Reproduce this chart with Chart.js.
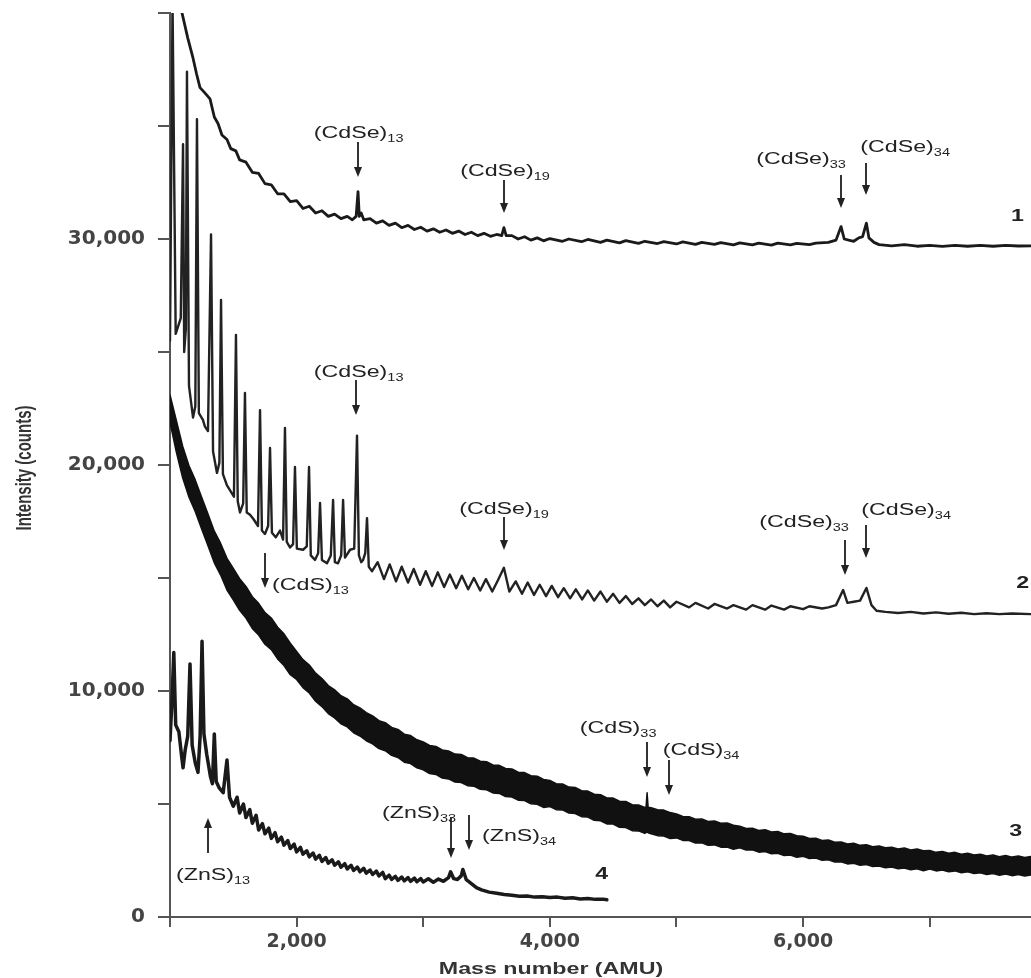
<!DOCTYPE html>
<html lang="en">
<head>
<meta charset="UTF-8">
<title>Mass spectra of CdSe, CdS and ZnS clusters</title>
<script src="https://cdn.jsdelivr.net/npm/chart.js"></script>
<style>
  html, body { margin: 0; padding: 0; background: #fff; }
  #wrap { width: 1031px; height: 978px; }
</style>
</head>
<body>
<div id="wrap"><canvas id="spectra" width="1031" height="978"></canvas></div>
<script>
// spectra: [mass number, counts]
const spectrum1 = [
  [1060,42500],[1095,40000],[1140,38900],[1182,38000],[1210,37300],[1237,36700],[1270,36500],[1316,36200],
  [1350,35400],[1380,35100],[1410,34600],[1450,34400],[1480,34000],[1520,33900],[1550,33500],[1600,33400],
  [1650,32950],[1700,32900],[1750,32450],[1800,32400],[1850,32000],[1900,32000],[1950,31650],[2000,31700],
  [2050,31350],[2100,31450],[2150,31150],[2200,31250],[2250,31000],[2300,31100],[2350,30900],[2400,31000],
  [2440,30850],[2470,31000],[2485,32100],[2495,31000],[2510,31150],[2530,30850],[2580,30900],[2630,30700],
  [2680,30800],[2730,30600],[2780,30700],[2830,30500],[2880,30600],[2930,30420],[2980,30520],[3030,30350],
  [3080,30450],[3130,30300],[3180,30400],[3230,30250],[3280,30350],[3330,30200],[3380,30300],[3430,30150],
  [3480,30250],[3530,30120],[3580,30200],[3620,30150],[3637,30500],[3655,30150],[3700,30150],[3750,30000],
  [3800,30100],[3850,29950],[3900,30050],[3950,29920],[4000,30020],[4100,29900],[4150,30000],[4250,29880],
  [4300,29980],[4400,29850],[4450,29950],[4550,29830],[4600,29930],[4700,29810],[4750,29900],[4850,29800],
  [4900,29880],[5000,29780],[5050,29870],[5150,29760],[5200,29850],[5300,29760],[5350,29840],[5450,29740],
  [5500,29830],[5600,29740],[5650,29820],[5750,29730],[5800,29820],[5900,29740],[5950,29810],[6050,29750],
  [6100,29820],[6200,29850],[6260,29950],[6300,30550],[6325,30000],[6360,29950],[6400,29900],[6440,30050],
  [6470,30100],[6500,30700],[6520,30050],[6560,29850],[6600,29750],[6700,29700],[6800,29750],[6900,29680],
  [7000,29720],[7100,29670],[7200,29720],[7300,29680],[7400,29720],[7500,29680],[7600,29720],[7700,29690],
  [7800,29700]
];

const spectrum2 = [
  [1000,25500],[1020,40500],[1045,25800],[1085,26500],[1103,34200],[1112,25000],[1125,26000],[1134,37400],
  [1150,23500],[1182,22100],[1200,22600],[1213,35300],[1228,22300],[1260,22000],[1276,21700],[1300,21500],
  [1324,30200],[1340,20600],[1371,19650],[1390,20100],[1403,27300],[1418,19600],[1450,19100],[1505,18600],
  [1521,25750],[1535,18400],[1553,17900],[1578,18300],[1592,23190],[1606,17900],[1632,17800],[1660,17600],
  [1695,17300],[1711,22430],[1726,17100],[1750,16950],[1775,17300],[1790,20750],[1805,17000],[1835,16800],
  [1869,17100],[1893,16700],[1908,21640],[1922,16600],[1948,16350],[1972,16500],[1987,19910],[2002,16300],
  [2051,16250],[2080,16400],[2098,19910],[2112,16000],[2145,15800],[2170,16100],[2185,18320],[2200,15800],
  [2240,15650],[2270,16000],[2288,18450],[2302,15700],[2327,15650],[2352,16000],[2367,18450],[2382,15900],
  [2422,16250],[2455,16300],[2477,21300],[2492,16000],[2510,15700],[2525,15800],[2542,16100],[2556,17650],
  [2570,15500],[2596,15300],[2640,15700],[2690,14950],[2735,15600],[2785,14850],[2830,15500],[2880,14800],
  [2925,15400],[2975,14700],[3020,15300],[3070,14650],[3115,15250],[3165,14600],[3210,15150],[3260,14550],
  [3305,15100],[3355,14500],[3400,15000],[3450,14450],[3495,14950],[3545,14400],[3590,14900],[3637,15450],
  [3680,14400],[3730,14850],[3780,14300],[3825,14800],[3875,14250],[3920,14700],[3970,14200],[4015,14650],
  [4065,14150],[4110,14550],[4160,14100],[4205,14500],[4255,14050],[4300,14450],[4350,14000],[4400,14400],
  [4450,13950],[4500,14300],[4550,13900],[4600,14200],[4650,13850],[4700,14100],[4750,13800],[4800,14050],
  [4850,13750],[4900,14000],[4950,13700],[5000,13950],[5100,13700],[5150,13900],[5250,13650],[5300,13850],
  [5400,13650],[5450,13800],[5550,13600],[5600,13800],[5700,13600],[5750,13780],[5850,13600],[5900,13750],
  [6000,13620],[6050,13750],[6150,13650],[6200,13700],[6260,13800],[6316,14470],[6350,13900],[6400,13950],
  [6450,14000],[6500,14560],[6540,13800],[6580,13550],[6650,13500],[6750,13450],[6850,13500],[6950,13430],
  [7050,13480],[7150,13420],[7250,13460],[7350,13400],[7450,13440],[7550,13400],[7650,13430],[7800,13400]
];

// spectrum 3 is a dense noisy band: [mass number, lower edge, upper edge]
const spectrum3 = [
  [1000,21900,23100],[1050,20570,21970],[1100,19430,20830],[1150,18570,19970],[1200,17930,19330],
  [1250,17170,18570],[1300,16430,17830],[1350,15670,17070],[1400,15130,16530],[1450,14470,15870],
  [1500,14030,15430],[1550,13570,14970],[1600,13230,14630],[1650,12770,14170],[1700,12480,13880],
  [1750,12070,13470],[1800,11830,13230],[1850,11420,12820],[1900,11130,12530],[1950,10720,12120],
  [2000,10510,11750],[2050,10150,11390],[2100,9910,11150],[2150,9550,10790],[2200,9310,10550],
  [2250,9000,10240],[2300,8810,10050],[2350,8550,9790],[2400,8410,9650],[2450,8150,9390],
  [2500,8010,9250],[2550,7800,9040],[2600,7660,8900],[2650,7450,8690],[2700,7360,8600],
  [2750,7150,8390],[2800,7060,8300],[2850,6850,8090],[2900,6790,8030],[2950,6600,7840],
  [3000,6510,7750],[3050,6350,7590],[3100,6310,7550],[3150,6150,7390],[3200,6110,7350],
  [3250,5970,7210],[3300,5950,7190],[3350,5810,7050],[3400,5790,7030],[3450,5650,6890],
  [3500,5630,6870],[3550,5490,6730],[3600,5470,6710],[3650,5330,6570],[3700,5310,6550],
  [3750,5170,6410],[3800,5150,6390],[3850,5010,6250],[3900,4990,6230],[3950,4850,6090],
  [4000,4890,6040],[4050,4750,5900],[4100,4740,5890],[4150,4600,5750],[4200,4580,5730],
  [4250,4440,5590],[4300,4420,5570],[4350,4280,5430],[4400,4260,5410],[4450,4120,5270],
  [4500,4110,5260],[4550,3970,5120],[4600,3960,5110],[4650,3820,4970],[4700,3810,4960],
  [4750,3700,4850],[4760,3740,4870],[4768,3760,5500],[4776,3730,4860],[4800,3680,4830],
  [4850,3600,4750],[4900,3580,4730],[4950,3470,4620],[5000,3500,4560],[5050,3390,4450],
  [5100,3380,4440],[5150,3270,4330],[5200,3280,4340],[5250,3170,4230],[5300,3190,4250],
  [5350,3090,4150],[5400,3100,4160],[5450,3000,4060],[5500,3060,4020],[5550,2960,3920],
  [5600,2970,3930],[5650,2870,3830],[5700,2900,3860],[5750,2800,3760],[5800,2820,3780],
  [5850,2720,3680],[5900,2740,3700],[5950,2640,3600],[6000,2690,3570],[6050,2590,3470],
  [6100,2610,3490],[6150,2510,3390],[6200,2530,3410],[6250,2430,3310],[6300,2440,3320],
  [6350,2350,3230],[6400,2380,3260],[6450,2290,3170],[6500,2320,3200],[6550,2230,3110],
  [6600,2260,3140],[6650,2180,3060],[6700,2210,3090],[6750,2130,3010],[6800,2170,3050],
  [6850,2090,2970],[6900,2130,3010],[6950,2050,2930],[7000,2120,2940],[7050,2040,2860],
  [7100,2080,2900],[7150,2000,2820],[7200,2040,2860],[7250,1960,2780],[7300,2000,2820],
  [7350,1920,2740],[7400,1960,2780],[7450,1880,2700],[7500,1920,2740],[7550,1850,2670],
  [7600,1900,2720],[7650,1830,2650],[7700,1880,2700],[7750,1810,2630],[7800,1860,2680]
];

const spectrum4 = [
  [1000,7800],[1015,9500],[1030,11700],[1045,8500],[1070,8200],[1090,7200],[1103,6600],[1120,7400],
  [1140,8000],[1158,11200],[1175,7600],[1200,6800],[1221,6400],[1238,8000],[1253,12200],[1268,8100],
  [1290,7200],[1320,6200],[1335,5900],[1350,8100],[1365,6000],[1390,5700],[1420,5500],[1450,6950],
  [1470,5300],[1500,4900],[1530,5300],[1550,4600],[1580,5000],[1600,4400],[1630,4750],[1650,4150],
  [1680,4500],[1700,3850],[1730,4130],[1750,3680],[1780,3930],[1800,3480],[1830,3730],[1850,3330],
  [1880,3530],[1900,3180],[1930,3380],[1950,3030],[1980,3230],[2000,2880],[2030,3080],[2050,2780],
  [2080,2930],[2100,2660],[2130,2830],[2150,2560],[2180,2730],[2200,2460],[2230,2630],[2250,2380],
  [2280,2530],[2300,2290],[2330,2440],[2350,2200],[2380,2360],[2400,2130],[2430,2290],[2450,2060],
  [2480,2210],[2500,2000],[2530,2150],[2550,1940],[2580,2080],[2600,1880],[2630,2030],[2650,1820],
  [2680,1970],[2700,1700],[2730,1850],[2750,1660],[2780,1800],[2800,1620],[2830,1770],[2850,1600],
  [2880,1740],[2900,1580],[2930,1720],[2950,1560],[2980,1700],[3000,1550],[3040,1690],[3080,1540],
  [3120,1680],[3160,1580],[3200,1740],[3216,2000],[3240,1700],[3270,1660],[3300,1820],[3313,2100],
  [3340,1650],[3380,1480],[3420,1300],[3460,1200],[3520,1100],[3580,1050],[3640,1000],[3700,960],
  [3760,920],[3820,930],[3880,880],[3940,900],[4000,860],[4060,880],[4120,830],[4180,850],
  [4240,800],[4300,820],[4360,780],[4420,790],[4450,760]
];

// axis ticks
const massTickValues = [1000, 2000, 3000, 4000, 5000, 6000, 7000];
const massTicks = [2000, 4000, 6000];
const countTickValues = [0, 5000, 10000, 15000, 20000, 25000, 30000, 35000, 40000];
const countTicks = [0, 10000, 20000, 30000];

// peak markers: cluster name, subscript, arrow mass, arrow from/to counts, label mass, label baseline counts
const peakMarks = [
  {name: '(CdSe)', n: '13', at: 2485, from: 34290, to: 32740, lx: 2490, ly: 34470},
  {name: '(CdSe)', n: '19', at: 3638, from: 32610, to: 31150, lx: 3646, ly: 32790},
  {name: '(CdSe)', n: '33', at: 6300, from: 32830, to: 31370, lx: 5984, ly: 33320},
  {name: '(CdSe)', n: '34', at: 6498, from: 33360, to: 31950, lx: 6806, ly: 33850},
  {name: '(CdSe)', n: '13', at: 2469, from: 23760, to: 22210, lx: 2490, ly: 23890},
  {name: '(CdSe)', n: '19', at: 3638, from: 17700, to: 16240, lx: 3638, ly: 17830},
  {name: '(CdS)',  n: '13', at: 1750, from: 16110, to: 14560, lx: 1806, ly: 14470, left: true},
  {name: '(CdSe)', n: '33', at: 6332, from: 16680, to: 15130, lx: 6008, ly: 17260},
  {name: '(CdSe)', n: '34', at: 6498, from: 17350, to: 15880, lx: 6814, ly: 17790},
  {name: '(CdS)',  n: '33', at: 4768, from: 7740, to: 6190, lx: 4539, ly: 8140},
  {name: '(CdS)',  n: '34', at: 4942, from: 6950, to: 5400, lx: 5194, ly: 7170},
  {name: '(ZnS)',  n: '13', at: 1300, from: 2830, to: 4380, lx: 1340, ly: 1640},
  {name: '(ZnS)',  n: '33', at: 3220, from: 4420, to: 2610, lx: 2967, ly: 4380},
  {name: '(ZnS)',  n: '34', at: 3362, from: 4510, to: 2960, lx: 3464, ly: 3360, left: true}
];

const traceNames = ['1', '2', '3', '4'];
const traceNameMass = [7690, 7730, 7675, 4405];
const traceNameCounts = [30800, 14560, 3580, 1680];

const SX = 1.45; // the scan is stretched sideways, so is its lettering
const INK = '#222';

function wideText(ctx, str, x, y, font) {
  ctx.save();
  ctx.font = font;
  ctx.translate(x, y);
  ctx.scale(SX, 1);
  ctx.fillText(str, 0, 0);
  ctx.restore();
}
function wideWidth(ctx, str, font) {
  ctx.save();
  ctx.font = font;
  const w = ctx.measureText(str).width * SX;
  ctx.restore();
  return w;
}
function arrow(ctx, x, y0, y1) {
  const dir = y1 > y0 ? 1 : -1;
  ctx.beginPath();
  ctx.moveTo(x, y0);
  ctx.lineTo(x, y1 - dir * 6);
  ctx.stroke();
  ctx.beginPath();
  ctx.moveTo(x, y1);
  ctx.lineTo(x - 4, y1 - dir * 10);
  ctx.lineTo(x + 4, y1 - dir * 10);
  ctx.closePath();
  ctx.fill();
}

const MAIN_FONT = '16px "Liberation Sans", Arial, sans-serif';
const SUB_FONT = '10px "Liberation Sans", Arial, sans-serif';

const markPlugin = {
  id: 'peakMarks',
  afterDraw(chart) {
    const {ctx, scales: {x, y}} = chart;
    ctx.save();
    ctx.fillStyle = INK;
    ctx.strokeStyle = '#333';
    ctx.lineWidth = 2;
    ctx.textAlign = 'left';
    ctx.textBaseline = 'alphabetic';

    peakMarks.forEach(p => {
      arrow(ctx, Math.round(x.getPixelForValue(p.at)), y.getPixelForValue(p.from), y.getPixelForValue(p.to));
      const wm = wideWidth(ctx, p.name, MAIN_FONT);
      const ws = wideWidth(ctx, p.n, SUB_FONT);
      const px = x.getPixelForValue(p.lx);
      const py = y.getPixelForValue(p.ly);
      const left = p.left ? px : px - (wm + ws) / 2;
      wideText(ctx, p.name, left, py, MAIN_FONT);
      wideText(ctx, p.n, left + wm, py + 4, SUB_FONT);
    });

    traceNames.forEach((t, i) => {
      const px = x.getPixelForValue(traceNameMass[i]);
      const py = y.getPixelForValue(traceNameCounts[i]);
      wideText(ctx, t, px - 6, py, 'bold 16px "Liberation Sans", Arial, sans-serif');
    });

    // axis titles
    ctx.fillStyle = '#333';
    const tFont = 'bold 16px "Liberation Sans", Arial, sans-serif';
    const tw = wideWidth(ctx, 'Mass number (AMU)', tFont);
    wideText(ctx, 'Mass number (AMU)', 551 - tw / 2, 974, tFont);

    ctx.save();
    ctx.translate(25, 468);
    ctx.scale(SX, 1);
    ctx.rotate(-Math.PI / 2);
    ctx.font = 'bold 15px "Liberation Sans", Arial, sans-serif';
    ctx.textAlign = 'center';
    ctx.textBaseline = 'middle';
    ctx.fillText('Intensity (counts)', 0, 0);
    ctx.restore();

    ctx.restore();
  }
};

const toXY = s => s.map(([m, c]) => ({x: m, y: c}));

const axisGrey = '#555';

new Chart(document.getElementById('spectra'), {
  type: 'line',
  data: {
    datasets: [
      {label: '3 low', data: spectrum3.map(([m, lo]) => ({x: m, y: lo})), borderColor: '#111', borderWidth: 1.5, fill: false},
      {label: '3', data: spectrum3.map(([m, , hi]) => ({x: m, y: hi})), borderColor: '#111', borderWidth: 1.5,
        fill: '-1', backgroundColor: '#111'},
      {label: '1', data: toXY(spectrum1), borderColor: '#1a1a1a', borderWidth: 2.8},
      {label: '2', data: toXY(spectrum2), borderColor: '#222', borderWidth: 2.4},
      {label: '4', data: toXY(spectrum4), borderColor: '#1a1a1a', borderWidth: 3.5}
    ]
  },
  options: {
    responsive: false,
    animation: false,
    devicePixelRatio: 1,
    layout: {padding: {top: 13, right: 0, left: 0, bottom: 0}},
    elements: {
      point: {radius: 0},
      line: {tension: 0, borderJoinStyle: 'round', borderCapStyle: 'round'}
    },
    plugins: {legend: {display: false}, tooltip: {enabled: false}},
    scales: {
      x: {
        type: 'linear',
        bounds: 'data',
        min: 1000,
        max: 7800,
        afterBuildTicks: s => { s.ticks = massTickValues.map(v => ({value: v})); },
        afterFit: s => { s.height = 61; s.paddingLeft = 0; s.paddingRight = 0; },
        border: {display: true, color: axisGrey, width: 2},
        grid: {drawOnChartArea: false, drawTicks: true, tickLength: 10, color: axisGrey, lineWidth: 2},
        ticks: {
          autoSkip: false,
          maxRotation: 0,
          padding: 4,
          color: '#444',
          font: {family: 'DejaVu Sans', weight: 'bold', size: 19},
          callback: v => massTicks.includes(v) ? v.toLocaleString('en-US') : ''
        }
      },
      y: {
        type: 'linear',
        bounds: 'data',
        min: 0,
        max: 40000,
        afterBuildTicks: s => { s.ticks = countTickValues.map(v => ({value: v})); },
        afterFit: s => { s.width = 170; s.paddingTop = 0; s.paddingBottom = 0; },
        border: {display: true, color: axisGrey, width: 2},
        grid: {drawOnChartArea: false, drawTicks: true, tickLength: 12, color: axisGrey, lineWidth: 2},
        ticks: {
          autoSkip: false,
          padding: 13,
          color: '#444',
          font: {family: 'DejaVu Sans', weight: 'bold', size: 20},
          callback: v => countTicks.includes(v) ? v.toLocaleString('en-US') : ''
        }
      }
    }
  },
  plugins: [markPlugin]
});
</script>
</body>
</html>
